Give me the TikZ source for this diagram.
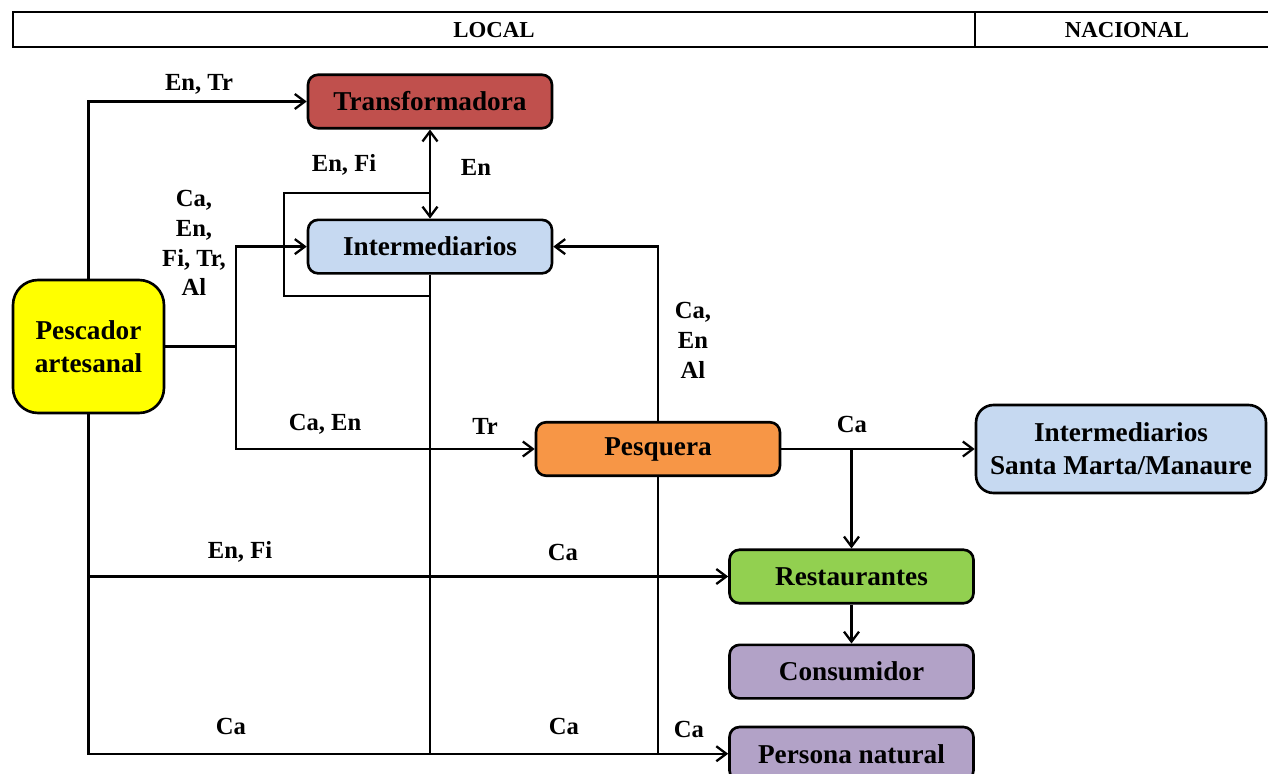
\documentclass[tikz,border=0pt]{standalone}
\usepackage{fontspec}
\setmainfont{Liberation Serif}
\usepackage{tikz}
\usetikzlibrary{arrows.meta, positioning}
\definecolor{tred}{HTML}{C0504D}
\definecolor{tblue}{HTML}{C6D9F1}
\definecolor{torange}{HTML}{F79646}
\definecolor{tgreen}{HTML}{92D050}
\definecolor{tpurple}{HTML}{B2A2C7}
\definecolor{tyellow}{HTML}{FFFF00}
\tikzstyle{stage} = [rectangle,
rounded corners=0.2cm,
minimum width=4.88cm,
minimum height=1.07cm,
text centered, align=center,
inner sep=0pt,
draw=black, line width=1.5pt,
font=\bfseries\fontsize{15.5}{19}\selectfont]
\tikzstyle{tag} = [font=\bfseries\fontsize{14}{17}\selectfont, align=center, inner sep=0pt]
\tikzstyle{arrow} = [line width=1.3pt, -{Straight Barb[length=2mm,width=3mm]}]
\tikzstyle{wire} = [line width=1.3pt]

\begin{document}
\begin{tikzpicture}[x=0.02cm, y=-0.02cm]
\useasboundingbox (0,0) rectangle (1268,774);
% header
\draw[line width=1.5pt] (13,12) rectangle (1290,47);
\draw[line width=1.5pt] (975,12) -- (975,47);
\node[tag, font=\bfseries\fontsize{13}{15}\selectfont] (local) at (494,30) {LOCAL};
\node[tag, font=\bfseries\fontsize{13}{15}\selectfont] (nacional) at (1127,30) {NACIONAL};

% actors
\node (pesc) [stage, fill=tyellow, rounded corners=0.5cm, minimum width=3.02cm, minimum height=2.66cm] at (88.5,346.5) {Pescador\\artesanal};
\node (trans) [stage, fill=tred] at (430,101.5) {Transformadora};
\node (inter) [stage, fill=tblue, below=1.78cm of trans] {Intermediarios};
\node (pesq) [stage, fill=torange] at (658,449) {Pesquera};
\node (intsm) [stage, fill=tblue, rounded corners=0.35cm, minimum width=5.8cm, minimum height=1.76cm] at (1121,449) {Intermediarios\\Santa Marta/Manaure};
\node (rest) [stage, fill=tgreen] at (851.5,576.5) {Restaurantes};
\node (cons) [stage, fill=tpurple, below=0.78cm of rest] {Consumidor};
\node (pers) [stage, fill=tpurple, below=0.52cm of cons] {Persona natural};

% connectors
\coordinate (split) at (236,346.5);
\coordinate (fork) at (rest.north |- pesq.east);
\draw [arrow] (pesc.north) |- (trans.west);
\draw [wire] (pesc.east) -- (split);
\draw [arrow] (split) |- (inter.west);
\draw [arrow] (split) |- (pesq.west);
\draw [arrow, {Straight Barb[length=2mm,width=3mm]}-{Straight Barb[length=2mm,width=3mm]}] (trans.south) -- (inter.north);
\draw [wire] (inter.south) |- (284,296) |- (430,193);
\draw [wire] (inter.south) -- (inter.south |- pers.west);
\draw [arrow] (pesq.north) |- (inter.east);
\draw [wire] (pesq.south) -- (pesq.south |- pers.west);
\draw [arrow] (pesq.east) -- (intsm.west);
\draw [arrow] (fork) -- (rest.north);
\draw [arrow] (rest.south) -- (cons.north);
\draw [arrow] (pesc.south) |- (pers.west);
\draw [arrow] (pesc.south |- rest.west) -- (rest.west);

% labels
\node[tag] (tEnTr) at (199,84) {En, Tr};
\node[tag] (tEnFi) at (344,165) {En, Fi};
\node[tag] (tEn) at (476,167) {En};
\node[tag] (tMix) at (194,243) {Ca,\\En,\\Fi, Tr,\\Al};
\node[tag] (tCaEnAl) at (693,340) {Ca,\\En\\Al};
\node[tag] (tCaEn) at (325,424) {Ca, En};
\node[tag] (tTr) at (485,426) {Tr};
\node[tag] (tCaNac) at (852,424) {Ca};
\node[tag] (tEnFiR) at (240,552) {En, Fi};
\node[tag] (tCaR) at (563,552) {Ca};
\node[tag] (tCaP1) at (231,726) {Ca};
\node[tag] (tCaP2) at (564,726) {Ca};
\node[tag] (tCaP3) at (689,729) {Ca};
\end{tikzpicture}
\end{document}
